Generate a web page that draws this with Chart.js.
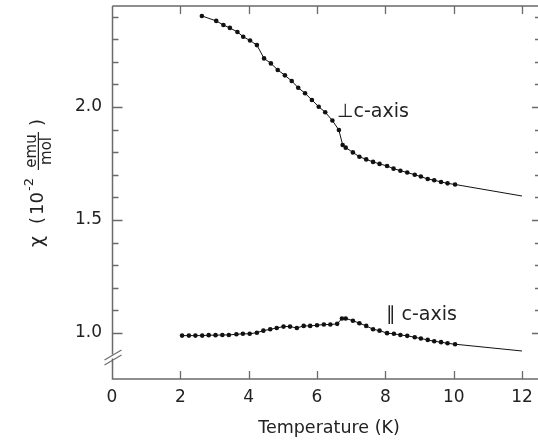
<!DOCTYPE html>
<html>
<head>
<meta charset="utf-8">
<script src="https://cdn.jsdelivr.net/npm/chart.js@4/dist/chart.umd.min.js"></script>
<style>
html,body{margin:0;padding:0;background:#fff;}
#wrap{width:538px;height:444px;}
</style>
</head>
<body>
<div id="wrap"><canvas id="c" width="538" height="444"></canvas></div>
<script>
// ---- data ----
const perpT = [2.63, 3.05, 3.26, 3.45, 3.67, 3.84, 4.04, 4.24, 4.45, 4.65, 4.85, 5.06, 5.26, 5.45, 5.65, 5.85, 6.05, 6.24, 6.45, 6.64, 6.75, 6.84, 7.05, 7.24, 7.44, 7.64, 7.83, 8.05, 8.24, 8.44, 8.64, 8.86, 9.04, 9.24, 9.43, 9.63, 9.82, 10.04, 12.0];
const perpChi = [2.403, 2.381, 2.363, 2.350, 2.332, 2.311, 2.294, 2.274, 2.215, 2.193, 2.164, 2.140, 2.115, 2.085, 2.061, 2.031, 2.001, 1.977, 1.940, 1.898, 1.832, 1.820, 1.799, 1.780, 1.768, 1.757, 1.748, 1.739, 1.727, 1.718, 1.710, 1.700, 1.692, 1.681, 1.676, 1.668, 1.662, 1.657, 1.606];
const parT = [2.05, 2.25, 2.44, 2.64, 2.83, 3.03, 3.23, 3.42, 3.64, 3.83, 4.03, 4.24, 4.43, 4.63, 4.82, 5.02, 5.21, 5.41, 5.61, 5.80, 6.00, 6.20, 6.39, 6.59, 6.73, 6.84, 7.05, 7.24, 7.44, 7.64, 7.83, 8.05, 8.25, 8.44, 8.64, 8.86, 9.04, 9.24, 9.43, 9.63, 9.82, 10.04, 12.0];
const parChi = [0.988, 0.988, 0.988, 0.988, 0.990, 0.990, 0.991, 0.991, 0.994, 0.996, 0.996, 1.001, 1.010, 1.016, 1.022, 1.028, 1.028, 1.022, 1.031, 1.031, 1.034, 1.037, 1.037, 1.040, 1.064, 1.064, 1.054, 1.043, 1.031, 1.016, 1.010, 0.999, 0.996, 0.991, 0.987, 0.981, 0.975, 0.969, 0.963, 0.959, 0.954, 0.950, 0.920];
const xTickValues = [0, 2, 4, 6, 8, 10, 12];
const yLabelValues = [1.0, 1.5, 2.0];
const xRange = [0, 12.35];
const yRange = [0.796, 2.447];
const perpLabel = "\u22A5c-axis";
const parLabel = "\u2225 c-axis";
const xTitle = "Temperature (K)";

const FONT = "'DejaVu Sans', sans-serif";
const TEXT = "#222";
const FRAME = "#6a6a6a";

function pts(xs, ys){ return xs.map((x,i)=>({x:x, y:ys[i]})); }
function radius(ctx){ return ctx.dataIndex === ctx.dataset.data.length - 1 ? 0 : 2.3; }

const decor = {
  id: 'decor',
  afterDraw(chart){
    const ctx = chart.ctx, a = chart.chartArea;
    const xs = chart.scales.x, ys = chart.scales.y;
    ctx.save();
    ctx.strokeStyle = FRAME;
    ctx.lineWidth = 1.5;
    const L = a.left + 0.5, B = a.bottom, T = a.top, R = chart.width;
    // frame (left with break, bottom, top)
    ctx.beginPath();
    ctx.moveTo(L, T); ctx.lineTo(L, 354.5);
    ctx.moveTo(L, 358.5); ctx.lineTo(L, B); ctx.lineTo(R, B);
    ctx.moveTo(L, T); ctx.lineTo(R, T);
    ctx.stroke();
    // break slashes
    ctx.lineWidth = 1.1;
    ctx.beginPath();
    ctx.moveTo(L - 8, 360); ctx.lineTo(L + 9, 350);
    ctx.moveTo(L - 8, 365); ctx.lineTo(L + 9, 355);
    ctx.stroke();
    // y ticks (left & right), from the library's tick list
    ctx.lineWidth = 1.3;
    ctx.beginPath();
    ys.ticks.forEach(t => {
      if (t.value < 0.999) return;
      const major = yLabelValues.some(v => Math.abs(v - t.value) < 1e-6);
      const p = Math.round(ys.getPixelForValue(t.value)) + 0.5;
      ctx.moveTo(L, p); ctx.lineTo(L + (major ? 10 : 6), p);
      ctx.moveTo(R, p); ctx.lineTo(R - (major ? 6 : 3), p);
    });
    // x ticks (bottom & top)
    xs.ticks.forEach(t => {
      if (t.value <= 0) return;
      const p = Math.round(xs.getPixelForValue(t.value)) + 0.5;
      ctx.moveTo(p, B); ctx.lineTo(p, B - 8);
      ctx.moveTo(p, T); ctx.lineTo(p, T + 8);
    });
    ctx.stroke();

    // texts
    ctx.fillStyle = TEXT;
    ctx.textBaseline = 'alphabetic';
    ctx.textAlign = 'center';
    ctx.font = "17.5px " + FONT;
    ctx.fillText(xTitle, 329, 433);

    ctx.textAlign = 'left';
    ctx.font = "19px " + FONT;
    ctx.fillText(perpLabel, 337, 117);
    ctx.fillText(parLabel, 386, 320);

    // y axis title (rotated)
    ctx.save();
    ctx.translate(43, 247);
    ctx.rotate(-Math.PI / 2);
    ctx.textAlign = 'left';
    ctx.font = "19px " + FONT;
    ctx.fillText("\u03C7", 0, 0);
    ctx.font = "18px " + FONT;
    ctx.fillText("(", 23, 0);
    ctx.fillText("10", 32, 0);
    ctx.font = "13px " + FONT;
    ctx.fillText("-2", 56, -10);
    ctx.font = "15px " + FONT;
    ctx.textAlign = 'center';
    ctx.fillText("emu", 96, -7);
    ctx.fillText("mol", 96, 8);
    ctx.fillRect(77, -5.2, 38, 1.2);
    ctx.textAlign = 'left';
    ctx.font = "18px " + FONT;
    ctx.fillText(")", 121, 0);
    ctx.restore();
    ctx.restore();
  }
};

new Chart(document.getElementById('c'), {
  type: 'scatter',
  data: {
    datasets: [
      { data: pts(perpT, perpChi), showLine: true, borderColor: '#111', borderWidth: 1, backgroundColor: '#111', pointRadius: radius, pointBorderWidth: 0, tension: 0 },
      { data: pts(parT, parChi), showLine: true, borderColor: '#111', borderWidth: 1, backgroundColor: '#111', pointRadius: radius, pointBorderWidth: 0, tension: 0 }
    ]
  },
  options: {
    responsive: false,
    animation: false,
    events: [],
    layout: { padding: { top: 6, right: 1, left: 0, bottom: 0 } },
    plugins: { legend: { display: false }, tooltip: { enabled: false } },
    scales: {
      x: {
        type: 'linear', min: xRange[0], max: xRange[1],
        border: { display: false },
        grid: { display: false, drawTicks: false },
        afterFit(s){ s.height = 65; s.paddingLeft = 0; s.paddingRight = 0; s.paddingTop = 0; s.paddingBottom = 0; },
        afterBuildTicks(s){ s.ticks = xTickValues.map(v => ({ value: v })); },
        ticks: { color: TEXT, font: { family: FONT, size: 17 }, padding: 8, maxRotation: 0, autoSkip: false,
                 callback: v => String(v) }
      },
      y: {
        type: 'linear', min: yRange[0], max: yRange[1],
        border: { display: false },
        grid: { display: false, drawTicks: false },
        afterFit(s){ s.width = 112; s.paddingTop = 0; s.paddingBottom = 0; s.paddingLeft = 0; s.paddingRight = 0; },
        ticks: { stepSize: 0.1, includeBounds: false, color: TEXT, font: { family: FONT, size: 17 }, padding: 10, autoSkip: false,
                 callback: v => yLabelValues.some(w => Math.abs(w - v) < 1e-6) ? v.toFixed(1) : '' }
      }
    }
  },
  plugins: [decor]
});
</script>
</body>
</html>
